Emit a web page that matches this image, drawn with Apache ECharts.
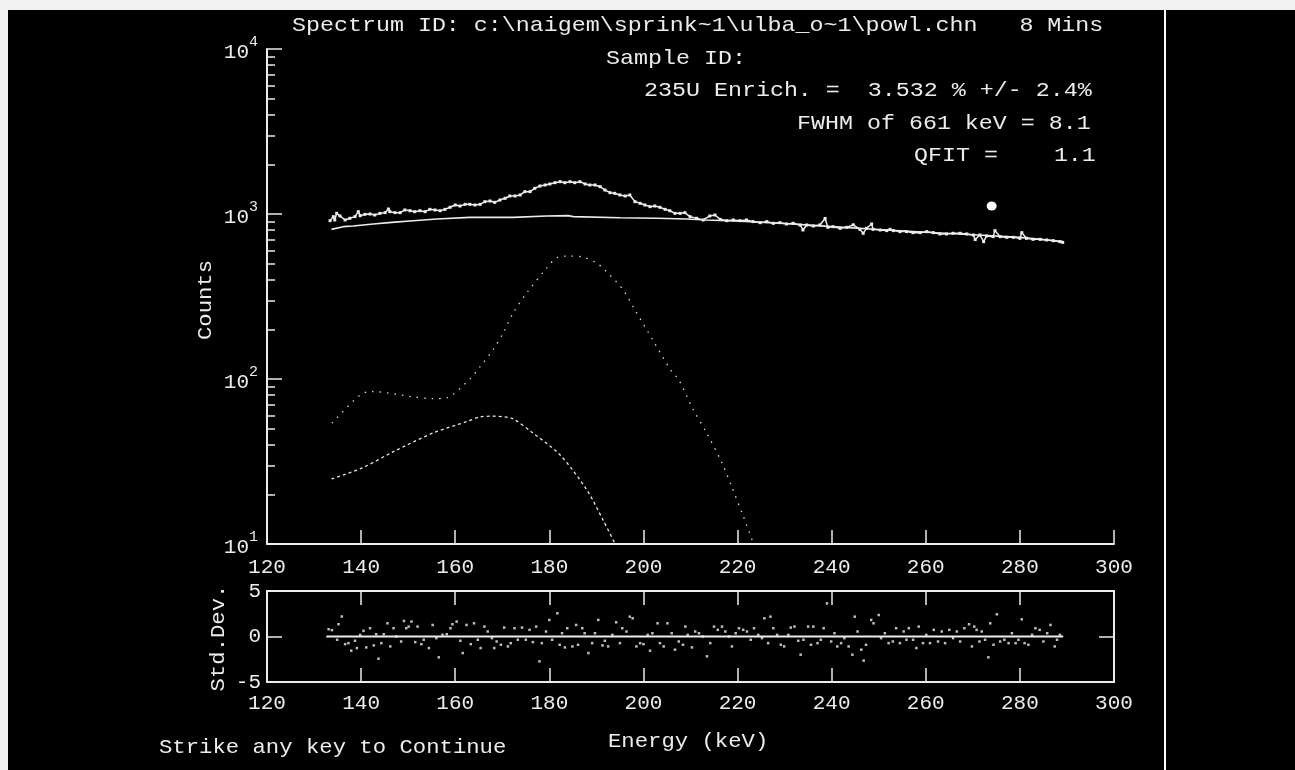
<!DOCTYPE html>
<html><head><meta charset="utf-8">
<script src="https://cdn.jsdelivr.net/npm/echarts@6/dist/echarts.min.js"></script>
<style>html,body{margin:0;padding:0;background:#000}#c{width:1295px;height:770px}</style>
</head><body><div id="c"></div>
<script>
// ---- data ----
const xTicks = [120, 140, 160, 180, 200, 220, 240, 260, 280, 300];
const yMinorTicks = [20,30,40,50,60,70,80,90,200,300,400,500,600,700,800,900,2000,3000,4000,5000,6000,7000,8000,9000];

const specEnergy = [133.4,134.1,134.4,134.8,135.5,136.6,137.6,138.7,139.4,139.8,140.8,141.9,142.9,144.0,145.1,145.8,146.1,147.2,148.3,149.3,150.4,151.4,152.5,153.6,154.6,155.7,156.8,157.8,158.9,160.0,161.0,162.1,163.1,164.2,165.3,166.3,167.4,168.4,169.5,170.6,171.6,172.7,173.8,174.8,175.9,176.9,178.0,179.1,180.1,181.2,182.3,183.3,184.4,185.4,186.5,187.6,188.6,189.7,190.8,191.8,192.9,193.9,195.0,196.1,197.1,198.2,199.3,200.3,201.4,202.4,203.5,204.6,205.6,206.7,207.8,208.8,209.9,211.3,212.7,214.1,215.2,216.3,217.7,219.1,220.5,221.9,223.3,224.8,226.2,227.6,229.0,230.4,231.8,233.3,233.9,234.7,236.1,237.5,238.6,239.2,240.3,241.8,243.2,244.6,246.0,246.7,247.4,248.5,248.8,250.3,251.7,252.4,253.1,254.5,255.9,257.3,258.8,260.2,261.6,263.0,264.4,265.8,267.3,268.7,270.1,270.5,271.5,272.3,272.9,274.3,274.7,275.8,277.2,278.6,280.0,280.4,281.4,282.8,284.3,285.7,287.1,288.5,289.1];
const specCounts = [911,964,920,1009,973,920,942,964,1033,977,995,1000,986,1009,1019,1072,1033,1019,1019,1058,1047,1033,1047,1033,1067,1058,1047,1067,1098,1134,1118,1144,1144,1134,1144,1188,1199,1177,1216,1245,1286,1286,1304,1366,1366,1431,1478,1499,1520,1548,1570,1548,1570,1548,1570,1520,1499,1499,1464,1398,1347,1335,1304,1286,1304,1188,1161,1134,1108,1118,1098,1067,1047,1009,1009,1019,964,942,920,973,986,928,911,920,911,920,899,886,899,878,886,870,878,858,800,858,846,858,940,830,838,819,830,860,807,764,819,870,807,800,793,807,793,782,782,771,771,782,771,757,757,764,764,757,746,700,746,680,736,729,793,729,722,722,712,771,712,702,702,696,689,680,673];

const fitEnergy = [133.7,136.2,138.3,142.6,146.5,151.1,156.1,163.1,172.3,179.4,184.0,185.1,195.0,202.8,209.2,213.4,220.5,230.0,240.0,250.0,260.0,270.0,280.0,289.1];
const fitCounts = [807,838,846,870,890,911,933,954,954,973,978,964,950,942,933,920,905,875,838,805,775,748,722,682];

const peakEnergy = [133.8,139.8,142.2,151.0,155.3,158.2,163.1,165.3,168.0,170.2,172.3,175.2,179.4,181.7,184.5,187.2,190.0,191.8,195.7,198.2,202.0,206.0,207.5,210.5,213.5,216.6,218.8,221.2,223.4];
const peakCounts = [54,80,84,78,76,77,100,119,150,190,251,332,469,545,556,548,505,458,346,262,172,111,99,66,46.7,31.4,22.1,14.8,10];

const tailEnergy = [133.7,140.1,146.8,155.3,162.4,165.3,168.0,170.6,172.3,176.5,182.3,188.0,191.4,194.0];
const tailCounts = [24.8,28.8,36.2,47.1,55.1,58.9,59.5,58.9,57.4,47.1,34.6,21.2,14.0,10];

const markerPoint = [274.0, 1118];

const resEnergy = [133.1,133.8,135.2,135.9,134.9,136.6,137.3,137.9,138.7,139.1,139.8,140.5,141.1,141.9,142.7,143.2,143.7,144.3,144.8,145.6,146.2,146.9,147.5,148.5,149.1,149.6,150.1,150.7,151.5,152.0,152.8,153.3,154.4,155.2,156.0,156.5,157.3,158.2,159.0,159.4,160.3,161.1,161.6,162.4,163.3,164.0,164.8,165.4,166.2,166.9,167.8,168.3,168.8,169.7,170.4,171.2,171.8,172.6,173.3,174.2,175.0,175.8,176.5,177.2,177.9,178.4,179.3,180.0,180.6,181.7,182.2,182.7,183.3,183.8,184.9,185.7,186.1,187.0,187.5,188.3,189.1,189.7,190.4,191.3,191.8,192.5,193.4,194.2,195.0,195.5,196.4,197.1,197.7,198.5,199.3,200.0,200.9,201.4,201.9,203.0,203.5,204.3,205.1,206.0,206.7,207.5,208.4,208.9,209.4,210.3,211.0,211.8,212.6,213.5,214.2,215.0,215.8,216.7,217.4,218.2,218.8,219.6,220.3,221.2,222.0,222.8,223.5,224.4,225.2,225.7,226.5,227.0,227.6,228.4,229.2,229.9,230.8,231.3,232.1,232.9,233.4,234.0,235.0,235.6,236.1,237.0,237.7,238.3,239.0,239.9,240.6,241.2,242.0,242.7,243.6,244.4,244.9,245.5,246.3,246.8,247.3,248.4,248.9,250.0,250.5,251.3,252.1,253.0,253.7,254.5,255.3,255.9,256.4,257.3,258.0,258.5,259.4,260.1,260.9,261.7,262.6,263.4,264.1,265.0,265.8,266.6,267.3,268.2,269.2,269.8,270.3,270.8,271.4,271.9,272.6,273.3,273.7,274.4,275.1,275.8,276.7,277.6,278.3,279.1,279.7,280.4,281.0,281.8,282.6,283.3,284.2,285.0,285.8,286.5,287.4,287.9,288.5];
const resDev = [0.8,0.7,1.35,2.2,-0.36,-0.84,-0.73,-1.56,-0.47,-1.27,0.18,0.62,-1.2,0.91,-0.98,0.25,-2.44,-0.73,0.25,1.45,-1.09,0.91,0,-0.55,1.71,0.91,1.09,1.64,-0.62,1.09,-0.84,-0.36,-1.27,1.27,-0.18,-2.29,0.18,0.25,0.91,1.35,1.64,-0.47,-1.82,1.27,-0.84,1.45,-0.36,-1.27,1.09,0.55,-0.18,-1.27,-0.55,-0.91,0.98,-1.09,-0.73,0.91,-0.36,0.98,-0.36,0.73,-0.62,1.09,-2.73,-0.73,0.55,1.82,-0.36,2.55,-0.91,0.36,-1.2,0.91,-1.09,1.27,-0.91,0.91,0.36,-1.82,-0.73,0.36,1.82,-0.98,-0.47,-1.09,0.18,1.56,-0.73,0.91,0.55,2.18,2.0,-1.09,-0.73,-0.84,0.18,-1.56,0.36,1.45,-0.73,-1.09,1.45,0.36,-1.45,-0.55,-0.91,1.09,0.18,-1.2,0.55,0.36,0,-2.18,-0.73,1.09,0.73,1.09,0.55,0,-1.09,0.36,0.91,0.73,0.55,-0.36,0.91,0.18,-0.18,2.0,-0.73,2.18,0.91,0.18,-0.91,-1.09,0.18,0.98,1.09,-0.47,-2.0,-0.36,1.09,-0.91,1.09,-0.73,-0.36,0.91,3.64,-0.55,0.36,-1.09,-0.73,-0.18,-1.09,-2.0,2.18,0.55,-1.45,-2.65,-0.91,1.82,1.45,2.36,-0.18,0.36,-0.73,-0.55,0.91,-0.73,0.55,-0.36,0.91,-0.36,-1.27,1.09,-0.73,0.18,-0.73,0.73,-0.55,0.55,-0.73,0.73,-0.18,0.55,-0.55,0.91,1.35,-1.09,1.09,0.73,-0.55,0.55,-0.36,-2.29,1.45,-0.91,2.44,-0.55,-0.36,-0.73,0.36,-0.73,-0.36,1.89,-0.73,-0.91,0.18,0.91,0.73,-0.55,0.36,1.27,-1.09,-0.36,0.18];
const zeroEnergy = [132.6, 289.2];
const zeroDev = [0, 0];

const titleLines = [
  'Spectrum ID: c:\\naigem\\sprink~1\\ulba_o~1\\powl.chn   8 Mins',
  'Sample ID:',
  '235U Enrich. =  3.532 % +/- 2.4%',
  'FWHM of 661 keV = 8.1',
  'QFIT =    1.1'
];

// ---- chart ----
const zip = (a, b) => a.map((v, i) => [v, b[i]]);
const W = '#ececec';
const MONO = '"Liberation Mono", "DejaVu Sans Mono", monospace';
const FONT = '21px ' + MONO;
const txt = (s, x, y, opts) => Object.assign({
  type: 'text', x: x, y: y, scaleX: 1.11, silent: true,
  style: { text: s, fill: W, font: FONT, textAlign: 'left', textVerticalAlign: 'middle' }
}, opts || {});
const rtxt = (s, x, y, sx) => txt(s, x, y, { rotation: Math.PI / 2, scaleX: sx,
  style: { text: s, fill: W, font: FONT, textAlign: 'center', textVerticalAlign: 'middle' } });

const chart = echarts.init(document.getElementById('c'), null, { renderer: 'canvas' });
const labelStyle = { color: W, fontFamily: MONO, fontSize: 21 };

chart.setOption({
  animation: false,
  backgroundColor: '#000',
  grid: [
    { left: 267, top: 49, width: 847, height: 495 },
    { left: 267, top: 591, width: 847, height: 91 }
  ],
  xAxis: [
    { gridIndex: 0, type: 'value', min: 120, max: 300, interval: 20,
      axisLine: { onZero: false, lineStyle: { color: W, width: 2 } },
      axisTick: { inside: true, length: 14, lineStyle: { color: W, width: 1.5 } },
      axisLabel: Object.assign({ margin: 13 }, labelStyle), splitLine: { show: false } },
    { gridIndex: 1, type: 'value', min: 120, max: 300, interval: 20,
      axisLine: { onZero: false, lineStyle: { color: W, width: 2 } },
      axisTick: { inside: true, length: 14, lineStyle: { color: W, width: 1.5 } },
      axisLabel: Object.assign({ margin: 11 }, labelStyle), splitLine: { show: false } },
    { gridIndex: 1, type: 'value', position: 'top', min: 120, max: 300, interval: 20,
      axisLine: { onZero: false, lineStyle: { color: W, width: 2 } },
      axisTick: { inside: true, length: 14, lineStyle: { color: W, width: 1.5 } },
      axisLabel: { show: false }, splitLine: { show: false } }
  ],
  yAxis: [
    { gridIndex: 0, type: 'log', logBase: 10, min: 10, max: 10000, position: 'left',
      axisLine: { onZero: false, lineStyle: { color: W, width: 2 } },
      axisTick: { inside: true, length: 15, lineStyle: { color: W, width: 1.5 } },
      splitLine: { show: false },
      axisLabel: { margin: 9, formatter: v => '{b|10}{s|' + Math.round(Math.log10(v)) + '}',
        rich: { b: { color: W, fontFamily: MONO, fontSize: 21, lineHeight: 28, verticalAlign: 'bottom' },
                s: { color: W, fontFamily: MONO, fontSize: 15, lineHeight: 28, verticalAlign: 'top' } } } },
    { gridIndex: 0, type: 'log', logBase: 10, min: 10, max: 10000, position: 'left', offset: 0,
      axisLine: { show: false },
      axisTick: { inside: true, length: 8, customValues: yMinorTicks, lineStyle: { color: W, width: 1.5 } },
      axisLabel: { show: false }, splitLine: { show: false } },
    { gridIndex: 1, type: 'value', min: -5, max: 5, interval: 5, position: 'left',
      axisLine: { onZero: false, lineStyle: { color: W, width: 2 } },
      axisTick: { inside: true, length: 15, lineStyle: { color: W, width: 1.5 } },
      axisLabel: Object.assign({ margin: 6 }, labelStyle), splitLine: { show: false } },
    { gridIndex: 1, type: 'value', position: 'right', min: -5, max: 5, interval: 5,
      axisLine: { onZero: false, lineStyle: { color: W, width: 2 } },
      axisTick: { inside: true, length: 15, lineStyle: { color: W, width: 1.5 } },
      axisLabel: { show: false }, splitLine: { show: false } }
  ],
  series: [
    { type: 'line', xAxisIndex: 0, yAxisIndex: 0, data: zip(fitEnergy, fitCounts),
      showSymbol: false, lineStyle: { color: W, width: 1.6 } },
    { type: 'line', xAxisIndex: 0, yAxisIndex: 0, data: zip(specEnergy, specCounts),
      symbol: 'rect', symbolSize: 3, itemStyle: { color: W }, lineStyle: { color: W, width: 1.5 } },
    { type: 'line', xAxisIndex: 0, yAxisIndex: 0, data: zip(peakEnergy, peakCounts), smooth: 0.3,
      showSymbol: false, lineStyle: { color: '#d8d8d8', width: 1.3, type: [1.5, 6] } },
    { type: 'line', xAxisIndex: 0, yAxisIndex: 0, data: zip(tailEnergy, tailCounts), smooth: 0.3,
      showSymbol: false, lineStyle: { color: '#e6e6e6', width: 1.3, type: [3, 3] } },
    { type: 'scatter', xAxisIndex: 0, yAxisIndex: 0, data: [markerPoint],
      symbol: 'circle', symbolSize: [10, 9], itemStyle: { color: '#ffffff', opacity: 1 } },
    { type: 'line', xAxisIndex: 1, yAxisIndex: 2, data: zip(zeroEnergy, zeroDev),
      showSymbol: false, lineStyle: { color: W, width: 2 } },
    { type: 'scatter', xAxisIndex: 1, yAxisIndex: 2, data: zip(resEnergy, resDev),
      symbol: 'rect', symbolSize: 2.5, itemStyle: { color: W } }
  ],
  graphic: [
    { type: 'rect', silent: true, shape: { x: 0, y: 0, width: 1295, height: 10 }, style: { fill: '#f2f2f2' } },
    { type: 'rect', silent: true, shape: { x: 0, y: 0, width: 8, height: 770 }, style: { fill: '#f2f2f2' } },
    { type: 'line', silent: true, shape: { x1: 1165, y1: 10, x2: 1165, y2: 770 }, style: { stroke: '#fff', lineWidth: 2 } },
    txt(titleLines[0], 292, 25),
    txt(titleLines[1], 606, 58),
    txt(titleLines[2], 644, 90),
    txt(titleLines[3], 797, 123),
    txt(titleLines[4], 914, 155),
    rtxt('Counts', 205, 300, 1.06),
    rtxt('Std.Dev.', 218, 638, 1.06),
    txt('Energy (keV)', 608, 741, { scaleX: 1.06 }),
    txt('Strike any key to Continue', 159, 747, { scaleX: 1.06 })
  ]
});
</script></body></html>
